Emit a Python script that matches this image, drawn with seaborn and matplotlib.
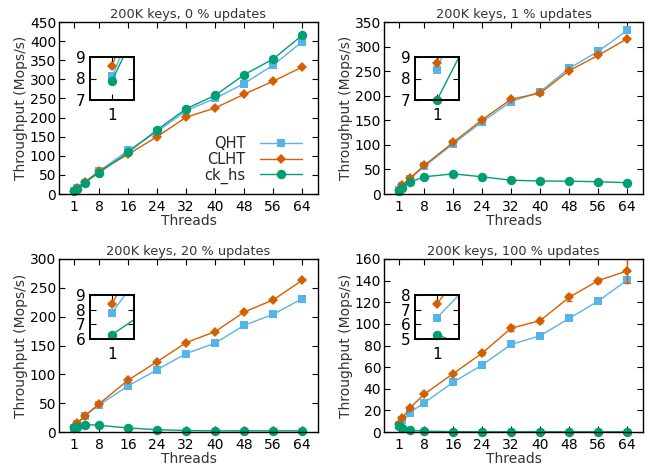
import numpy as np
import pandas as pd
import matplotlib
matplotlib.use("Agg")
import matplotlib.pyplot as plt
import seaborn as sns

sns.set_style("ticks")
plt.rcParams["font.family"] = ["DejaVu Sans"]

threads = [1, 2, 4, 8, 16, 24, 32, 40, 48, 56, 64]
series_names = ["QHT", "CLHT", "ck_hs"]

titles = [
    "200K keys, 0 % updates",
    "200K keys, 1 % updates",
    "200K keys, 20 % updates",
    "200K keys, 100 % updates",
]

# throughput in Mops/s, one list per structure and workload
qht_0 = [8.1, 15, 30, 60, 114, 163, 218, 250, 289, 337, 398]
clht_0 = [8.6, 16, 31, 60, 104, 150, 201, 225, 261, 295, 332]
ckhs_0 = [7.9, 14, 30, 56, 109, 168, 223, 258, 312, 353, 415]

qht_1 = [8.4, 16, 30, 56, 102, 147, 188, 208, 256, 290, 333]
clht_1 = [8.7, 18, 32, 58, 105, 151, 193, 205, 251, 282, 316]
ckhs_1 = [7.0, 12.7, 24, 35, 41, 35, 28, 26.5, 26, 25, 23]

qht_20 = [7.8, 13.6, 28, 47, 80, 108, 136, 154, 185, 204, 231]
clht_20 = [8.4, 16, 28, 49, 90, 122, 155, 174, 208, 229, 263]
ckhs_20 = [6.3, 9.2, 13, 11.5, 7, 4, 2.5, 2, 2, 2, 2]

qht_100 = [6.45, 10.9, 18, 27, 46, 62, 81, 89, 105, 121, 140.5]
clht_100 = [7.4, 13, 22, 35, 54, 73, 96, 103, 124.5, 140, 149]
ckhs_100 = [5.3, 3.6, 1.5, 0.8, 0.3, 0.2, 0.2, 0.2, 0.2, 0.2, 0.2]
clht_100_err = [0.2, 0.5, 1, 1, 1.5, 2, 3, 2.5, 3.5, 2.5, 11]

panel_data = [
    (qht_0, clht_0, ckhs_0),
    (qht_1, clht_1, ckhs_1),
    (qht_20, clht_20, ckhs_20),
    (qht_100, clht_100, ckhs_100),
]
y_limits = [(0, 450, 50), (0, 350, 50), (0, 300, 50), (0, 160, 20)]
inset_ylims = [(7, 9), (7, 9), (6, 9), (5, 8)]
xticks = [1, 8, 16, 24, 32, 40, 48, 56, 64]

colors = {"QHT": "#56B4E9", "CLHT": "#D55E00", "ck_hs": "#009E73"}
markers = {"QHT": "s", "CLHT": "D", "ck_hs": "o"}
msizes = {"QHT": 6.0, "CLHT": 5.6, "ck_hs": 6.8}

W, H = 651, 467
fig = plt.figure(figsize=(W / 100, H / 100), dpi=100)


def px_axes(left, top, right, bottom):
    return fig.add_axes([left / W, 1 - bottom / H, (right - left) / W, (bottom - top) / H])


main_boxes = [(59, 22, 318, 194), (384, 22, 643, 194), (59, 259, 318, 432), (384, 259, 643, 432)]
inset_boxes = [(90, 57, 134, 100), (415, 57, 459, 100), (90, 295, 134, 339), (415, 295, 459, 339)]

text_col = "#333333"


def frame(ax, lw):
    for s in ax.spines.values():
        s.set_visible(True)
        s.set_linewidth(lw)
        s.set_color("black")
    ax.tick_params(direction="in", top=True, right=True, length=4, width=0.8,
                   colors="black", labelcolor="black")


for i, (vals, box, ibox) in enumerate(zip(panel_data, main_boxes, inset_boxes)):
    df = pd.DataFrame({
        "Threads": threads * 3,
        "Throughput": list(vals[0]) + list(vals[1]) + list(vals[2]),
        "Structure": ["QHT"] * len(threads) + ["CLHT"] * len(threads) + ["ck_hs"] * len(threads),
    })

    ax = px_axes(*box)
    for name in series_names:
        sub = df[df["Structure"] == name]
        sns.lineplot(data=sub, x="Threads", y="Throughput", ax=ax, color=colors[name],
                     marker=markers[name], markersize=msizes[name], markeredgewidth=0,
                     linewidth=1.0, label=name, clip_on=False, legend=False)
        if i == 3 and name == "CLHT":
            ax.errorbar(threads, clht_100, yerr=clht_100_err, fmt="none",
                        ecolor=colors[name], elinewidth=1.0, capsize=2.5, capthick=1.0,
                        clip_on=True)

    y0, y1, ystep = y_limits[i]
    ax.set_xlim(-3.1, 68.4)
    ax.set_ylim(y0, y1)
    ax.set_xticks(xticks)
    ax.set_yticks(np.arange(y0, y1 + 1, ystep))
    frame(ax, 1.0)
    ax.tick_params(labelsize=10, pad=2)
    ax.tick_params(axis="x", pad=4)
    ax.set_title(titles[i], fontsize=9.3, color=text_col, pad=3)
    ax.set_xlabel("Threads", fontsize=10, color=text_col, labelpad=0)
    ax.set_ylabel("Throughput (Mops/s)", fontsize=10, color=text_col, labelpad=1)

    if i == 0:
        ax.legend(loc="lower right", bbox_to_anchor=(0.94, 0.06), frameon=False,
                  markerfirst=False, fontsize=10.5, handlelength=2.9, handletextpad=1.0,
                  labelspacing=0.05, borderpad=0, borderaxespad=0)

    # zoom on the single-thread point
    ins = px_axes(*ibox)
    for name in series_names:
        sub = df[df["Structure"] == name]
        sns.lineplot(data=sub, x="Threads", y="Throughput", ax=ins, color=colors[name],
                     linewidth=1.0, legend=False)
        first = sub[sub["Threads"] == 1]
        ins.plot(first["Threads"], first["Throughput"], linestyle="none",
                 marker=markers[name], markersize=msizes[name], markeredgewidth=0,
                 color=colors[name], clip_on=False)
    ins.set_xlim(0.65, 1.35)
    ins.set_ylim(*inset_ylims[i])
    ins.set_xticks([1])
    ins.set_yticks(np.arange(inset_ylims[i][0], inset_ylims[i][1] + 1, 1))
    ins.set_xlabel("")
    ins.set_ylabel("")
    frame(ins, 1.4)
    ins.tick_params(labelsize=11, pad=3)
    ins.tick_params(axis="x", pad=6)

fig.savefig("out.png", dpi=100)
